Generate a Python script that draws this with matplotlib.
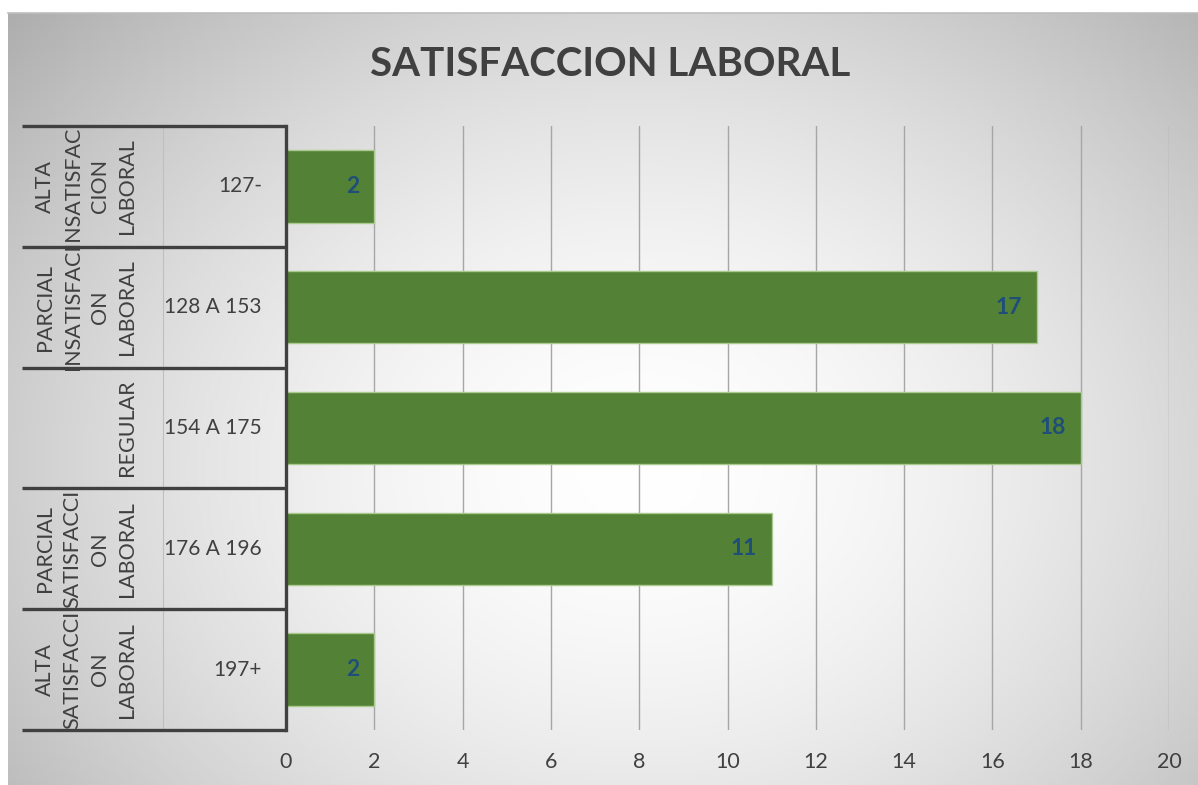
import numpy as np
import matplotlib
matplotlib.use("Agg")
import matplotlib.pyplot as plt
from matplotlib.transforms import blended_transform_factory

# ---- data ----
groups = ["ALTA\nINSATISFAC\nCION\nLABORAL",
          "PARCIAL\nINSATISFACI\nON\nLABORAL",
          "REGULAR",
          "PARCIAL\nSATISFACCI\nON\nLABORAL",
          "ALTA\nSATISFACCI\nON\nLABORAL"]
ranges = ["127-", "128 A 153", "154 A 175", "176 A 196", "197+"]
values = [2, 17, 18, 11, 2]
xticks = [0, 2, 4, 6, 8, 10, 12, 14, 16, 18, 20]
title = "SATISFACCION LABORAL"

plt.rcParams['font.family'] = ['Lato', 'DejaVu Sans']

W, H = 1198, 785
fig = plt.figure(figsize=(W / 100, H / 100), dpi=100)
fig.patch.set_facecolor("white")

# background radial gradient (chart area)
bx0, by0 = 8, 13
bg = fig.add_axes([bx0 / W, 0, (W - bx0) / W, (H - by0) / H], zorder=0)
nx, ny = 300, 200
xx, yy = np.meshgrid(np.linspace(bx0, W, nx), np.linspace(by0, H, ny))
cx, cy = 640, 470
r = np.sqrt(((xx - cx) / 700) ** 2 + ((yy - cy) / 560) ** 2)
v = 1 - 0.23 * np.clip(r, 0, 1.3) ** 1.7
img = np.dstack([v, v, v])
bg.imshow(img, aspect='auto', extent=[0, 1, 0, 1], origin='upper')
bg.set_axis_off()
fig.add_artist(plt.Line2D([bx0 / W, 1], [1 - by0 / H, 1 - by0 / H], color="#bdbdbd", lw=1.2))

# main axes
x0, x1 = 286, 1169
ytop, ybot = 126, 730
ax = fig.add_axes([x0 / W, 1 - ybot / H, (x1 - x0) / W, (ybot - ytop) / H], zorder=2)
ax.patch.set_alpha(0)
n = len(values)
ypos = np.arange(n)
ax.barh(ypos, values, height=0.6, color="#538135", edgecolor="#a9c98f", linewidth=1.0, zorder=3)
ax.set_xlim(0, 20)
ax.set_ylim(n - 0.5, -0.5)
ax.set_xticks(xticks)
ax.set_xticklabels([str(t) for t in xticks], fontsize=15.5, color="#404040")
ax.tick_params(axis='x', length=0, pad=16)
ax.set_yticks([])
for t in xticks[1:]:
    ax.axvline(t, color="#a6a6a6", lw=1.0, zorder=1)
for s in ["top", "right", "bottom"]:
    ax.spines[s].set_visible(False)
ax.spines["left"].set_color("#404040")
ax.spines["left"].set_linewidth(2.4)
ax.spines["left"].set_zorder(5)

# data labels
for y, val in zip(ypos, values):
    ax.text(val - 0.33, y, str(val), ha='right', va='center', fontsize=16.5,
            fontweight='bold', color="#1f4e79", zorder=4)

# category table
tr = blended_transform_factory(fig.transFigure, ax.transData)
for b in np.arange(n + 1) - 0.5:
    ax.plot([22 / W, x0 / W], [b, b], color="#404040", lw=2.4, transform=tr,
            clip_on=False, zorder=5, solid_capstyle='butt')
ax.plot([163 / W, 163 / W], [-0.5, n - 0.5], color="#bfbfbf", lw=0.8, transform=tr,
        clip_on=False, zorder=4)
for y, g, rg in zip(ypos, groups, ranges):
    ax.text(262 / W, y, rg, ha='right', va='center', fontsize=15, color="#404040",
            transform=tr, clip_on=False)
    ax.text(137 / W, y, g, ha='right', va='center', rotation=90, fontsize=15.5,
            color="#404040", linespacing=1.45, multialignment='center',
            transform=tr, clip_on=False)

fig.text(610 / W, 1 - 65 / H, title, ha='center', va='center', fontsize=29,
         fontweight='bold', color="#404040")

fig.savefig("out.png", dpi=100)
